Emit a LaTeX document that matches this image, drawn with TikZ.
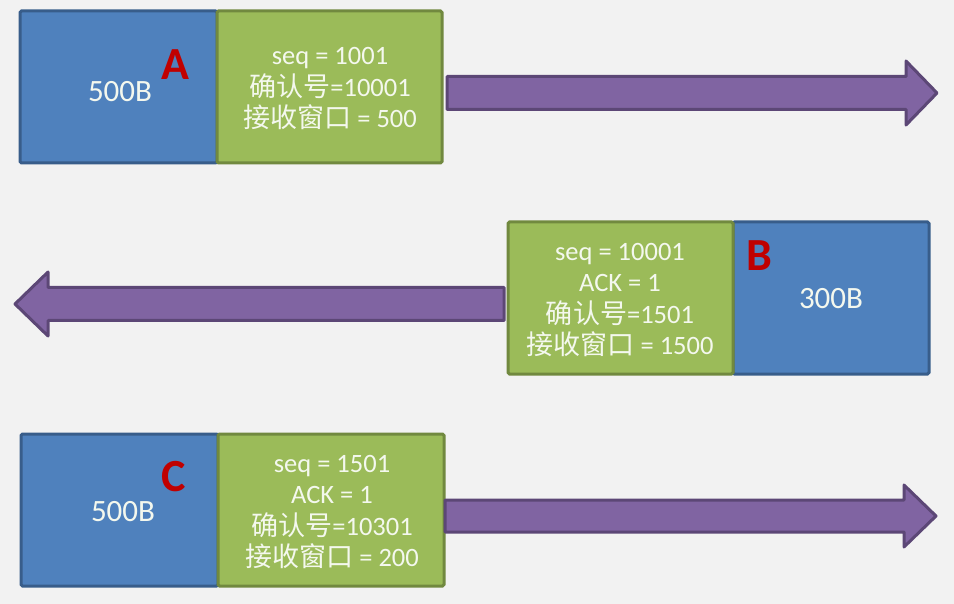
\documentclass[tikz,border=0pt]{standalone}
\usepackage{fontspec}
\setmainfont{Carlito}
\newfontfamily\cjk[Scale=1.02]{Noto Sans CJK SC}
\definecolor{bg}{HTML}{F2F2F2}
\definecolor{blueF}{HTML}{4F81BD}
\definecolor{blueB}{HTML}{385D8A}
\definecolor{greenF}{HTML}{9BBB59}
\definecolor{greenB}{HTML}{71893F}
\definecolor{purF}{HTML}{8064A2}
\definecolor{purB}{HTML}{5C4776}
\definecolor{letR}{HTML}{C00000}
\definecolor{txt}{HTML}{F4F8EE}
\begin{document}
\begin{tikzpicture}[x=1pt,y=-1pt,
  bluebox/.style={draw=blueB,fill=blueF,line width=3pt,rounded corners=1.5pt,anchor=north west,inner sep=0pt,outer sep=0pt},
  greenbox/.style={draw=greenB,fill=greenF,line width=3pt,rounded corners=1.5pt,anchor=north west,inner sep=0pt,outer sep=0pt},
  parrow/.style={draw=purB,fill=purF,line width=3pt,line join=round},
  bigtxt/.style={text=txt,font=\fontsize{31}{36}\selectfont,inner sep=0pt},
  boxtxt/.style={text=txt,align=center,font=\fontsize{26.5}{31.5}\selectfont,inner sep=0pt},
  letter/.style={text=letR,font=\fontsize{46}{50}\selectfont\bfseries,inner sep=0pt}]
\useasboundingbox[fill=bg] (0,0) rectangle (954,604);

% ---- A ----
\node[bluebox,minimum width=197pt,minimum height=152pt] (ablue) at (20,11) {};
\node[greenbox,minimum width=225pt,minimum height=152pt] (agreen) at (217,11) {};
\node[bigtxt] (a500) at (120,92) {500B};
\node[letter] (aletter) at (175,65) {A};
\node[boxtxt] (ahdr) at (330,89) {seq = 1001\\{\cjk 确认号}=10001\\{\cjk 接收窗口} = 500};
\coordinate (aarr) at (447,93);
\draw[parrow] (aarr) ++(0,-16.5) -- (906,76.5) -- (906,61) -- (937,93) -- (906,125) -- (906,109.5) -- (447,109.5) -- cycle;

% ---- B ----
\node[bluebox,minimum width=196pt,minimum height=152pt] (bblue) at (733,222) {};
\node[greenbox,minimum width=225pt,minimum height=152pt] (bgreen) at (508,222) {};
\node[bigtxt] (b300) at (831,299) {300B};
\node[letter] (bletter) at (759,256) {B};
\node[boxtxt] (bhdr) at (620,300) {seq = 10001\\ACK = 1\\{\cjk 确认号}=1501\\{\cjk 接收窗口} = 1500};
\coordinate (barr) at (504,304);
\draw[parrow] (barr) ++(0,-16.5) -- (48,287.5) -- (48,272) -- (15,304) -- (48,336) -- (48,320.5) -- (504,320.5) -- cycle;

% ---- C ----
\node[bluebox,minimum width=197pt,minimum height=152pt] (cblue) at (21,434) {};
\node[greenbox,minimum width=226pt,minimum height=152pt] (cgreen) at (218,434) {};
\node[bigtxt] (c500) at (123,512) {500B};
\node[letter] (cletter) at (174,477) {C};
\node[boxtxt] (chdr) at (332,512) {seq = 1501\\ACK = 1\\{\cjk 确认号}=10301\\{\cjk 接收窗口} = 200};
\coordinate (carr) at (445,516);
\draw[parrow] (carr) ++(0,-16) -- (904,500) -- (904,485) -- (936,516) -- (904,547) -- (904,532) -- (445,532) -- cycle;
\end{tikzpicture}
\end{document}
